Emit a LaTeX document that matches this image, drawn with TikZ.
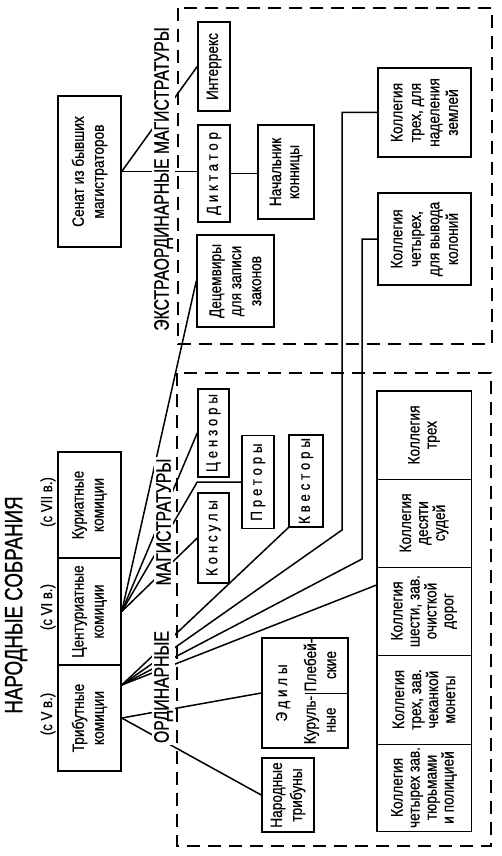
\documentclass[tikz,border=0pt]{standalone}
\usepackage{fontspec}
\setmainfont{Liberation Sans}
\newfontfamily\narrowfont{Liberation Sans}[FakeStretch=0.75, FakeBold=0.8]
\newfontfamily\boxfont{Liberation Sans}[FakeStretch=0.83, FakeBold=0.6]
\newfontfamily\spacedfont{Liberation Sans}[FakeStretch=0.83, FakeBold=0.6, LetterSpace=24]
\usetikzlibrary{calc}
\tikzset{
  rbox/.style={draw, line width=1.5pt, rotate=90, inner sep=0pt, align=center,
    font=\boxfont\fontsize{16.5}{20}\selectfont},
  sbox/.style={draw, line width=1.5pt, rotate=90, inner sep=0pt, align=center,
    font=\spacedfont\fontsize{16}{18}\selectfont},
  cell/.style={draw, line width=0.9pt, rotate=90, inner sep=0pt, align=center,
    minimum height=94pt, font=\boxfont\fontsize{16.5}{17}\selectfont},
  conn/.style={line width=1.5pt},
  dashbox/.style={line width=1.5pt, dash pattern=on 13pt off 8pt},
  biglbl/.style={rotate=90, fill=white, inner sep=2pt, font=\narrowfont\fontsize{21}{22}\selectfont},
  datelbl/.style={rotate=90, inner sep=0pt, font=\boxfont\fontsize{16}{17}\selectfont},
  plain/.style={rotate=90, inner sep=0pt, align=center, font=\boxfont\fontsize{16.5}{20}\selectfont}
}
\begin{document}
\begin{tikzpicture}[x=1pt,y=-1pt]
\useasboundingbox (0,0) rectangle (502,856);

% dashed frames
\draw[dashbox] (178,8) rectangle (492,344);
\draw[dashbox] (177,373) rectangle (491,846);

% popular assemblies
\node[rbox, minimum width=106pt, minimum height=63pt] (kur) at (89.5,505) {Куриатные\\комиции};
\node[rbox, minimum width=107pt, minimum height=63pt] (cent) at (89.5,611.5) {Центуриатные\\комиции};
\node[rbox, minimum width=106pt, minimum height=63pt] (trib) at (89.5,718) {Трибутные\\комиции};
\node[datelbl] (d1) at (48,502) {(с VII в.)};
\node[datelbl] (d2) at (48,607) {(с VI в.)};
\node[datelbl] (d3) at (48,714) {(с V в.)};
\node[rotate=90, inner sep=0pt, font=\narrowfont\fontsize{25}{26}\selectfont] (title) at (16,605) {НАРОДНЫЕ СОБРАНИЯ};

% senate and extraordinary magistracies
\node[rbox, minimum width=151pt, minimum height=63pt] (senat) at (89.5,171.5) {Сенат из бывших\\магистраторов};
\node[rbox, minimum width=89pt, minimum height=32pt] (interrex) at (214,66.5) {Интеррекс};
\node[sbox, minimum width=97pt, minimum height=32pt] (dikt) at (214,173.5) {Диктатор};
\node[rbox, minimum width=94pt, minimum height=56pt, font=\boxfont\fontsize{16.5}{18}\selectfont] (nach) at (286,172) {Начальник\\конницы};
\node[rbox, minimum width=92pt, minimum height=77pt] (dec) at (235.5,281) {Децемвиры\\для записи\\законов};
\node[rbox, minimum width=89pt, minimum height=93pt, font=\boxfont\fontsize{16.5}{18.5}\selectfont] (kol3) at (424.5,112.5) {Коллегия\\трех, для\\наделения\\землей};
\node[rbox, minimum width=92pt, minimum height=93pt, font=\boxfont\fontsize{16.5}{18.5}\selectfont] (kol4) at (424.5,239) {Коллегия\\четырех,\\для вывода\\колоний};

% ordinary magistracies
\node[sbox, minimum width=88pt, minimum height=31pt] (cenz) at (213.5,433) {Цензоры};
\node[sbox, minimum width=93pt, minimum height=32pt] (pret) at (258,482) {Преторы};
\node[sbox, minimum width=92pt, minimum height=34pt] (kvest) at (306,481) {Квесторы};
\node[sbox, minimum width=90pt, minimum height=31pt] (kons) at (213.5,538) {Консулы};
\node[rbox, minimum width=110pt, minimum height=86pt] (aed) at (305,693) {};
\node[rotate=90, inner sep=0pt, font=\spacedfont\fontsize{16}{18}\selectfont] (aedname) at (283,693) {Эдилы};
\node[plain] (aedk) at (320,720) {Куруль-\\ные};
\node[plain] (aedp) at (320,665) {Плебей-\\ские};
\draw[line width=0.9pt] (aed.south) -- ++(-44,0);
\node[rbox, minimum width=74pt, minimum height=52pt] (tribun) at (288,795) {Народные\\трибуны};

% colleges
\node[cell, minimum width=88pt] (c1) at (424,435) {Коллегия\\трех};
\node[cell, minimum width=88pt] (c2) at (424,523) {Коллегия\\десяти\\судей};
\node[cell, minimum width=88pt] (c3) at (424,611) {Коллегия\\шести, зав.\\очисткой\\дорог};
\node[cell, minimum width=89pt] (c4) at (424,699.5) {Коллегия\\трех, зав.\\чеканкой\\монеты};
\node[cell, minimum width=87pt] (c5) at (424,787.5) {Коллегия\\четырех зав.\\тюрьмами\\и полицией};
\draw[line width=1.5pt] (c1.north east) rectangle (c5.south west);

% connectors
\coordinate (tf) at ([yshift=33pt]trib.south);
\coordinate (b1) at (342,530);
\coordinate (b2) at (362,559);
\draw[conn] (senat.south) -- (senat.south -| dikt.north);
\draw[conn] (dikt.south) -- (dikt.south -| nach.north);
\draw[conn] (senat.south) -- (interrex.north);
\draw[conn] (cent.south) -- (dec.north);
\draw[conn] (cent.south) -- (cenz.north);
\draw[conn] (cent.south) -- (cenz.north |- pret.north) -- (pret.north);
\draw[conn] (cent.south) -- (kons.north);
\draw[conn] (tf) -- (kvest.north west);
\draw[conn] (tf) -- (b1) |- (kol3.north);
\draw[conn] (tf) -- (b2) |- (kol4.north);
\draw[conn] (tf) -- ([yshift=26pt]c3.north);
\draw[conn] (trib.south) -- (aed.north);
\draw[conn] (trib.south) -- (tribun.north);

% section labels
\node[biglbl] (extra) at (163.5,179) {ЭКСТРАОРДИНАРНЫЕ МАГИСТРАТУРЫ};
\node[biglbl] (ordA) at (163.5,687) {ОРДИНАРНЫЕ};
\node[biglbl] (ordB) at (163.5,522) {МАГИСТРАТУРЫ};
\end{tikzpicture}
\end{document}
